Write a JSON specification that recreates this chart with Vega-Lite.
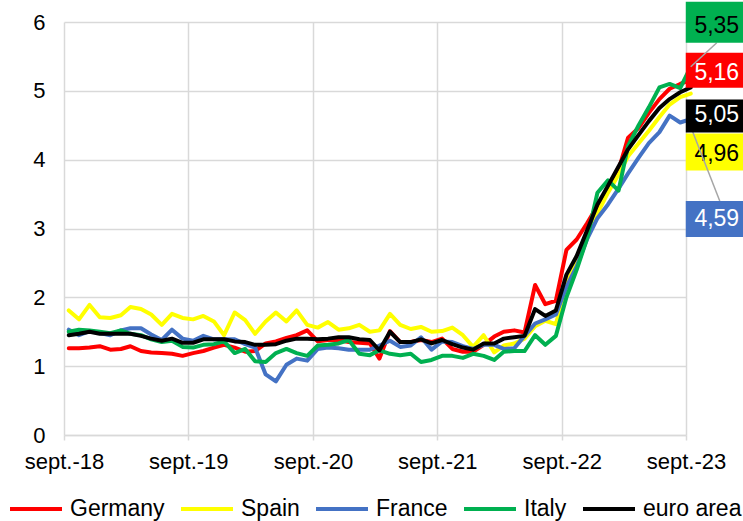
{
  "$schema": "https://vega.github.io/schema/vega-lite/v6.json",
  "width": 622,
  "height": 413,
  "autosize": {"type": "none"},
  "padding": {"left": 64, "top": 22, "right": 57, "bottom": 86},
  "background": "white",
  "config": {
    "view": {"stroke": null},
    "font": "Liberation Sans",
    "locale": {"number": {"decimal": ",", "thousands": ".", "grouping": [3], "currency": ["", " €"]}},
    "axis": {"gridColor": "#D9D9D9", "gridWidth": 1.5, "domainColor": "#D9D9D9", "domainWidth": 1.5, "tickColor": "#D9D9D9", "tickWidth": 1.5, "labelFont": "Liberation Sans", "labelFontSize": 22, "labelColor": "#000000", "title": null}
  },
  "data": {
    "format": {"parse": {"date": "date"}},
    "values": [
      {"date":"2018-09-15","series":"Germany","rate":1.26},{"date":"2018-10-15","series":"Germany","rate":1.26},{"date":"2018-11-15","series":"Germany","rate":1.27},{"date":"2018-12-15","series":"Germany","rate":1.29},
      {"date":"2019-01-15","series":"Germany","rate":1.24},{"date":"2019-02-15","series":"Germany","rate":1.25},{"date":"2019-03-15","series":"Germany","rate":1.29},{"date":"2019-04-15","series":"Germany","rate":1.22},{"date":"2019-05-15","series":"Germany","rate":1.20},{"date":"2019-06-15","series":"Germany","rate":1.19},{"date":"2019-07-15","series":"Germany","rate":1.18},{"date":"2019-08-15","series":"Germany","rate":1.15},{"date":"2019-09-15","series":"Germany","rate":1.19},{"date":"2019-10-15","series":"Germany","rate":1.22},{"date":"2019-11-15","series":"Germany","rate":1.27},{"date":"2019-12-15","series":"Germany","rate":1.31},
      {"date":"2020-01-15","series":"Germany","rate":1.27},{"date":"2020-02-15","series":"Germany","rate":1.21},{"date":"2020-03-15","series":"Germany","rate":1.22},{"date":"2020-04-15","series":"Germany","rate":1.33},{"date":"2020-05-15","series":"Germany","rate":1.36},{"date":"2020-06-15","series":"Germany","rate":1.41},{"date":"2020-07-15","series":"Germany","rate":1.45},{"date":"2020-08-15","series":"Germany","rate":1.52},{"date":"2020-09-15","series":"Germany","rate":1.36},{"date":"2020-10-15","series":"Germany","rate":1.38},{"date":"2020-11-15","series":"Germany","rate":1.38},{"date":"2020-12-15","series":"Germany","rate":1.35},
      {"date":"2021-01-15","series":"Germany","rate":1.34},{"date":"2021-02-15","series":"Germany","rate":1.33},{"date":"2021-03-15","series":"Germany","rate":1.11},{"date":"2021-04-15","series":"Germany","rate":1.51},{"date":"2021-05-15","series":"Germany","rate":1.35},{"date":"2021-06-15","series":"Germany","rate":1.35},{"date":"2021-07-15","series":"Germany","rate":1.38},{"date":"2021-08-15","series":"Germany","rate":1.35},{"date":"2021-09-15","series":"Germany","rate":1.40},{"date":"2021-10-15","series":"Germany","rate":1.25},{"date":"2021-11-15","series":"Germany","rate":1.21},{"date":"2021-12-15","series":"Germany","rate":1.21},
      {"date":"2022-01-15","series":"Germany","rate":1.31},{"date":"2022-02-15","series":"Germany","rate":1.43},{"date":"2022-03-15","series":"Germany","rate":1.50},{"date":"2022-04-15","series":"Germany","rate":1.52},{"date":"2022-05-15","series":"Germany","rate":1.49},{"date":"2022-06-15","series":"Germany","rate":2.18},{"date":"2022-07-15","series":"Germany","rate":1.90},{"date":"2022-08-15","series":"Germany","rate":1.95},{"date":"2022-09-15","series":"Germany","rate":2.69},{"date":"2022-10-15","series":"Germany","rate":2.84},{"date":"2022-11-15","series":"Germany","rate":3.08},{"date":"2022-12-15","series":"Germany","rate":3.33},
      {"date":"2023-01-15","series":"Germany","rate":3.58},{"date":"2023-02-15","series":"Germany","rate":3.85},{"date":"2023-03-15","series":"Germany","rate":4.32},{"date":"2023-04-15","series":"Germany","rate":4.46},{"date":"2023-05-15","series":"Germany","rate":4.68},{"date":"2023-06-15","series":"Germany","rate":4.88},{"date":"2023-07-15","series":"Germany","rate":5.03},{"date":"2023-08-15","series":"Germany","rate":5.10},{"date":"2023-09-15","series":"Germany","rate":5.16},

      {"date":"2018-09-15","series":"Spain","rate":1.81},{"date":"2018-10-15","series":"Spain","rate":1.68},{"date":"2018-11-15","series":"Spain","rate":1.89},{"date":"2018-12-15","series":"Spain","rate":1.71},
      {"date":"2019-01-15","series":"Spain","rate":1.70},{"date":"2019-02-15","series":"Spain","rate":1.74},{"date":"2019-03-15","series":"Spain","rate":1.86},{"date":"2019-04-15","series":"Spain","rate":1.83},{"date":"2019-05-15","series":"Spain","rate":1.75},{"date":"2019-06-15","series":"Spain","rate":1.60},{"date":"2019-07-15","series":"Spain","rate":1.76},{"date":"2019-08-15","series":"Spain","rate":1.70},{"date":"2019-09-15","series":"Spain","rate":1.68},{"date":"2019-10-15","series":"Spain","rate":1.73},{"date":"2019-11-15","series":"Spain","rate":1.65},{"date":"2019-12-15","series":"Spain","rate":1.45},
      {"date":"2020-01-15","series":"Spain","rate":1.78},{"date":"2020-02-15","series":"Spain","rate":1.67},{"date":"2020-03-15","series":"Spain","rate":1.47},{"date":"2020-04-15","series":"Spain","rate":1.65},{"date":"2020-05-15","series":"Spain","rate":1.78},{"date":"2020-06-15","series":"Spain","rate":1.65},{"date":"2020-07-15","series":"Spain","rate":1.81},{"date":"2020-08-15","series":"Spain","rate":1.60},{"date":"2020-09-15","series":"Spain","rate":1.56},{"date":"2020-10-15","series":"Spain","rate":1.64},{"date":"2020-11-15","series":"Spain","rate":1.53},{"date":"2020-12-15","series":"Spain","rate":1.55},
      {"date":"2021-01-15","series":"Spain","rate":1.60},{"date":"2021-02-15","series":"Spain","rate":1.50},{"date":"2021-03-15","series":"Spain","rate":1.52},{"date":"2021-04-15","series":"Spain","rate":1.76},{"date":"2021-05-15","series":"Spain","rate":1.60},{"date":"2021-06-15","series":"Spain","rate":1.54},{"date":"2021-07-15","series":"Spain","rate":1.57},{"date":"2021-08-15","series":"Spain","rate":1.50},{"date":"2021-09-15","series":"Spain","rate":1.51},{"date":"2021-10-15","series":"Spain","rate":1.56},{"date":"2021-11-15","series":"Spain","rate":1.45},{"date":"2021-12-15","series":"Spain","rate":1.28},
      {"date":"2022-01-15","series":"Spain","rate":1.45},{"date":"2022-02-15","series":"Spain","rate":1.20},{"date":"2022-03-15","series":"Spain","rate":1.30},{"date":"2022-04-15","series":"Spain","rate":1.33},{"date":"2022-05-15","series":"Spain","rate":1.40},{"date":"2022-06-15","series":"Spain","rate":1.58},{"date":"2022-07-15","series":"Spain","rate":1.66},{"date":"2022-08-15","series":"Spain","rate":1.61},{"date":"2022-09-15","series":"Spain","rate":2.20},{"date":"2022-10-15","series":"Spain","rate":2.50},{"date":"2022-11-15","series":"Spain","rate":2.88},{"date":"2022-12-15","series":"Spain","rate":3.22},
      {"date":"2023-01-15","series":"Spain","rate":3.52},{"date":"2023-02-15","series":"Spain","rate":3.78},{"date":"2023-03-15","series":"Spain","rate":4.05},{"date":"2023-04-15","series":"Spain","rate":4.24},{"date":"2023-05-15","series":"Spain","rate":4.42},{"date":"2023-06-15","series":"Spain","rate":4.62},{"date":"2023-07-15","series":"Spain","rate":4.80},{"date":"2023-08-15","series":"Spain","rate":4.91},{"date":"2023-09-15","series":"Spain","rate":4.96},

      {"date":"2018-09-15","series":"France","rate":1.53},{"date":"2018-10-15","series":"France","rate":1.45},{"date":"2018-11-15","series":"France","rate":1.51},{"date":"2018-12-15","series":"France","rate":1.48},
      {"date":"2019-01-15","series":"France","rate":1.45},{"date":"2019-02-15","series":"France","rate":1.52},{"date":"2019-03-15","series":"France","rate":1.55},{"date":"2019-04-15","series":"France","rate":1.55},{"date":"2019-05-15","series":"France","rate":1.46},{"date":"2019-06-15","series":"France","rate":1.38},{"date":"2019-07-15","series":"France","rate":1.53},{"date":"2019-08-15","series":"France","rate":1.40},{"date":"2019-09-15","series":"France","rate":1.37},{"date":"2019-10-15","series":"France","rate":1.44},{"date":"2019-11-15","series":"France","rate":1.39},{"date":"2019-12-15","series":"France","rate":1.39},
      {"date":"2020-01-15","series":"France","rate":1.39},{"date":"2020-02-15","series":"France","rate":1.32},{"date":"2020-03-15","series":"France","rate":1.27},{"date":"2020-04-15","series":"France","rate":0.88},{"date":"2020-05-15","series":"France","rate":0.78},{"date":"2020-06-15","series":"France","rate":1.02},{"date":"2020-07-15","series":"France","rate":1.11},{"date":"2020-08-15","series":"France","rate":1.08},{"date":"2020-09-15","series":"France","rate":1.25},{"date":"2020-10-15","series":"France","rate":1.27},{"date":"2020-11-15","series":"France","rate":1.26},{"date":"2020-12-15","series":"France","rate":1.24},
      {"date":"2021-01-15","series":"France","rate":1.24},{"date":"2021-02-15","series":"France","rate":1.24},{"date":"2021-03-15","series":"France","rate":1.30},{"date":"2021-04-15","series":"France","rate":1.37},{"date":"2021-05-15","series":"France","rate":1.28},{"date":"2021-06-15","series":"France","rate":1.30},{"date":"2021-07-15","series":"France","rate":1.42},{"date":"2021-08-15","series":"France","rate":1.24},{"date":"2021-09-15","series":"France","rate":1.36},{"date":"2021-10-15","series":"France","rate":1.35},{"date":"2021-11-15","series":"France","rate":1.29},{"date":"2021-12-15","series":"France","rate":1.25},
      {"date":"2022-01-15","series":"France","rate":1.31},{"date":"2022-02-15","series":"France","rate":1.31},{"date":"2022-03-15","series":"France","rate":1.25},{"date":"2022-04-15","series":"France","rate":1.26},{"date":"2022-05-15","series":"France","rate":1.44},{"date":"2022-06-15","series":"France","rate":1.62},{"date":"2022-07-15","series":"France","rate":1.68},{"date":"2022-08-15","series":"France","rate":1.75},{"date":"2022-09-15","series":"France","rate":2.15},{"date":"2022-10-15","series":"France","rate":2.45},{"date":"2022-11-15","series":"France","rate":2.85},{"date":"2022-12-15","series":"France","rate":3.15},
      {"date":"2023-01-15","series":"France","rate":3.35},{"date":"2023-02-15","series":"France","rate":3.58},{"date":"2023-03-15","series":"France","rate":3.80},{"date":"2023-04-15","series":"France","rate":4.03},{"date":"2023-05-15","series":"France","rate":4.24},{"date":"2023-06-15","series":"France","rate":4.40},{"date":"2023-07-15","series":"France","rate":4.64},{"date":"2023-08-15","series":"France","rate":4.54},{"date":"2023-09-15","series":"France","rate":4.59},

      {"date":"2018-09-15","series":"Italy","rate":1.50},{"date":"2018-10-15","series":"Italy","rate":1.53},{"date":"2018-11-15","series":"Italy","rate":1.52},{"date":"2018-12-15","series":"Italy","rate":1.50},
      {"date":"2019-01-15","series":"Italy","rate":1.48},{"date":"2019-02-15","series":"Italy","rate":1.52},{"date":"2019-03-15","series":"Italy","rate":1.47},{"date":"2019-04-15","series":"Italy","rate":1.45},{"date":"2019-05-15","series":"Italy","rate":1.39},{"date":"2019-06-15","series":"Italy","rate":1.35},{"date":"2019-07-15","series":"Italy","rate":1.37},{"date":"2019-08-15","series":"Italy","rate":1.28},{"date":"2019-09-15","series":"Italy","rate":1.27},{"date":"2019-10-15","series":"Italy","rate":1.31},{"date":"2019-11-15","series":"Italy","rate":1.32},{"date":"2019-12-15","series":"Italy","rate":1.36},
      {"date":"2020-01-15","series":"Italy","rate":1.19},{"date":"2020-02-15","series":"Italy","rate":1.25},{"date":"2020-03-15","series":"Italy","rate":1.07},{"date":"2020-04-15","series":"Italy","rate":1.06},{"date":"2020-05-15","series":"Italy","rate":1.19},{"date":"2020-06-15","series":"Italy","rate":1.25},{"date":"2020-07-15","series":"Italy","rate":1.19},{"date":"2020-08-15","series":"Italy","rate":1.15},{"date":"2020-09-15","series":"Italy","rate":1.30},{"date":"2020-10-15","series":"Italy","rate":1.31},{"date":"2020-11-15","series":"Italy","rate":1.33},{"date":"2020-12-15","series":"Italy","rate":1.38},
      {"date":"2021-01-15","series":"Italy","rate":1.18},{"date":"2021-02-15","series":"Italy","rate":1.16},{"date":"2021-03-15","series":"Italy","rate":1.23},{"date":"2021-04-15","series":"Italy","rate":1.18},{"date":"2021-05-15","series":"Italy","rate":1.16},{"date":"2021-06-15","series":"Italy","rate":1.18},{"date":"2021-07-15","series":"Italy","rate":1.06},{"date":"2021-08-15","series":"Italy","rate":1.09},{"date":"2021-09-15","series":"Italy","rate":1.15},{"date":"2021-10-15","series":"Italy","rate":1.15},{"date":"2021-11-15","series":"Italy","rate":1.12},{"date":"2021-12-15","series":"Italy","rate":1.18},
      {"date":"2022-01-15","series":"Italy","rate":1.15},{"date":"2022-02-15","series":"Italy","rate":1.09},{"date":"2022-03-15","series":"Italy","rate":1.21},{"date":"2022-04-15","series":"Italy","rate":1.22},{"date":"2022-05-15","series":"Italy","rate":1.22},{"date":"2022-06-15","series":"Italy","rate":1.45},{"date":"2022-07-15","series":"Italy","rate":1.31},{"date":"2022-08-15","series":"Italy","rate":1.44},{"date":"2022-09-15","series":"Italy","rate":2.00},{"date":"2022-10-15","series":"Italy","rate":2.40},{"date":"2022-11-15","series":"Italy","rate":2.86},{"date":"2022-12-15","series":"Italy","rate":3.52},
      {"date":"2023-01-15","series":"Italy","rate":3.70},{"date":"2023-02-15","series":"Italy","rate":3.55},{"date":"2023-03-15","series":"Italy","rate":4.20},{"date":"2023-04-15","series":"Italy","rate":4.50},{"date":"2023-05-15","series":"Italy","rate":4.76},{"date":"2023-06-15","series":"Italy","rate":5.05},{"date":"2023-07-15","series":"Italy","rate":5.10},{"date":"2023-08-15","series":"Italy","rate":5.04},{"date":"2023-09-15","series":"Italy","rate":5.35},

      {"date":"2018-09-15","series":"euro area","rate":1.45},{"date":"2018-10-15","series":"euro area","rate":1.47},{"date":"2018-11-15","series":"euro area","rate":1.50},{"date":"2018-12-15","series":"euro area","rate":1.47},
      {"date":"2019-01-15","series":"euro area","rate":1.47},{"date":"2019-02-15","series":"euro area","rate":1.47},{"date":"2019-03-15","series":"euro area","rate":1.47},{"date":"2019-04-15","series":"euro area","rate":1.44},{"date":"2019-05-15","series":"euro area","rate":1.40},{"date":"2019-06-15","series":"euro area","rate":1.37},{"date":"2019-07-15","series":"euro area","rate":1.40},{"date":"2019-08-15","series":"euro area","rate":1.34},{"date":"2019-09-15","series":"euro area","rate":1.34},{"date":"2019-10-15","series":"euro area","rate":1.39},{"date":"2019-11-15","series":"euro area","rate":1.39},{"date":"2019-12-15","series":"euro area","rate":1.39},
      {"date":"2020-01-15","series":"euro area","rate":1.36},{"date":"2020-02-15","series":"euro area","rate":1.35},{"date":"2020-03-15","series":"euro area","rate":1.31},{"date":"2020-04-15","series":"euro area","rate":1.31},{"date":"2020-05-15","series":"euro area","rate":1.32},{"date":"2020-06-15","series":"euro area","rate":1.37},{"date":"2020-07-15","series":"euro area","rate":1.40},{"date":"2020-08-15","series":"euro area","rate":1.40},{"date":"2020-09-15","series":"euro area","rate":1.39},{"date":"2020-10-15","series":"euro area","rate":1.40},{"date":"2020-11-15","series":"euro area","rate":1.42},{"date":"2020-12-15","series":"euro area","rate":1.42},
      {"date":"2021-01-15","series":"euro area","rate":1.39},{"date":"2021-02-15","series":"euro area","rate":1.38},{"date":"2021-03-15","series":"euro area","rate":1.23},{"date":"2021-04-15","series":"euro area","rate":1.50},{"date":"2021-05-15","series":"euro area","rate":1.35},{"date":"2021-06-15","series":"euro area","rate":1.35},{"date":"2021-07-15","series":"euro area","rate":1.39},{"date":"2021-08-15","series":"euro area","rate":1.33},{"date":"2021-09-15","series":"euro area","rate":1.38},{"date":"2021-10-15","series":"euro area","rate":1.32},{"date":"2021-11-15","series":"euro area","rate":1.27},{"date":"2021-12-15","series":"euro area","rate":1.24},
      {"date":"2022-01-15","series":"euro area","rate":1.33},{"date":"2022-02-15","series":"euro area","rate":1.33},{"date":"2022-03-15","series":"euro area","rate":1.40},{"date":"2022-04-15","series":"euro area","rate":1.42},{"date":"2022-05-15","series":"euro area","rate":1.44},{"date":"2022-06-15","series":"euro area","rate":1.83},{"date":"2022-07-15","series":"euro area","rate":1.73},{"date":"2022-08-15","series":"euro area","rate":1.81},{"date":"2022-09-15","series":"euro area","rate":2.33},{"date":"2022-10-15","series":"euro area","rate":2.60},{"date":"2022-11-15","series":"euro area","rate":2.98},{"date":"2022-12-15","series":"euro area","rate":3.35},
      {"date":"2023-01-15","series":"euro area","rate":3.62},{"date":"2023-02-15","series":"euro area","rate":3.90},{"date":"2023-03-15","series":"euro area","rate":4.15},{"date":"2023-04-15","series":"euro area","rate":4.36},{"date":"2023-05-15","series":"euro area","rate":4.56},{"date":"2023-06-15","series":"euro area","rate":4.75},{"date":"2023-07-15","series":"euro area","rate":4.88},{"date":"2023-08-15","series":"euro area","rate":4.98},{"date":"2023-09-15","series":"euro area","rate":5.05}
    ]
  },
  "encoding": {
    "x": {
      "field": "date", "type": "temporal",
      "scale": {"type": "utc", "domain": [{"year": 2018, "month": 9, "date": 1, "utc": true}, {"year": 2023, "month": 9, "date": 1, "utc": true}]},
      "axis": {
        "values": [
          {"year": 2018, "month": 9, "date": 1, "utc": true},
          {"year": 2019, "month": 9, "date": 1, "utc": true},
          {"year": 2020, "month": 9, "date": 1, "utc": true},
          {"year": 2021, "month": 9, "date": 1, "utc": true},
          {"year": 2022, "month": 9, "date": 1, "utc": true},
          {"year": 2023, "month": 9, "date": 1, "utc": true}
        ],
        "labelExpr": "'sept.-' + utcFormat(datum.value, '%y')",
        "grid": true, "tickSize": 5, "labelPadding": 11, "labelFlush": false, "labelOverlap": false, "labelBaseline": "top"
      }
    },
    "y": {
      "field": "rate", "type": "quantitative",
      "scale": {"domain": [0, 6], "nice": false},
      "axis": {"values": [0, 1, 2, 3, 4, 5, 6], "grid": true, "ticks": false, "domain": false, "labelPadding": 19}
    }
  },
  "layer": [
    {
      "mark": {"type": "line", "strokeWidth": 4, "strokeJoin": "round", "strokeCap": "round"},
      "encoding": {
        "color": {
          "field": "series", "type": "nominal",
          "scale": {"domain": ["Germany", "Spain", "France", "Italy", "euro area"], "range": ["#FF0000", "#FFFF00", "#4472C4", "#00B050", "#000000"]},
          "legend": {"orient": "none", "legendX": -56, "legendY": 459, "direction": "horizontal", "columns": 5, "gridAlign": "none", "symbolType": "stroke", "symbolSize": 2704, "symbolStrokeWidth": 4, "labelFontSize": 23, "labelFont": "Liberation Sans", "labelColor": "#000000", "labelOffset": 6, "columnPadding": 8, "title": null, "padding": 0, "labelLimit": 200}
        }
      }
    },
    {
      "transform": [{"filter": "datum.series == 'Germany' && utcyear(datum.date) == 2023 && utcmonth(datum.date) == 8"}],
      "layer": [
        {"mark": {"type": "rect", "color": "#FF0000", "xOffset": -5, "x2Offset": 55, "yOffset": -27, "y2Offset": 8}, "encoding": {"x2": {"field": "date"}, "y2": {"field": "rate"}}},
        {"mark": {"type": "text", "color": "#FFFFFF", "fontSize": 23, "dx": 26, "dy": -7, "align": "center", "baseline": "middle"}, "encoding": {"text": {"field": "rate", "type": "quantitative", "format": ".2f"}}}
      ]
    },
    {
      "transform": [{"filter": "datum.series == 'Spain' && utcyear(datum.date) == 2023 && utcmonth(datum.date) == 8"}],
      "layer": [
        {"mark": {"type": "rect", "color": "#FFFF00", "xOffset": -5, "x2Offset": 55, "yOffset": 40, "y2Offset": 77}, "encoding": {"x2": {"field": "date"}, "y2": {"field": "rate"}}},
        {"mark": {"type": "text", "color": "#000000", "fontSize": 23, "dx": 26, "dy": 60, "align": "center", "baseline": "middle"}, "encoding": {"text": {"field": "rate", "type": "quantitative", "format": ".2f"}}}
      ]
    },
    {
      "transform": [{"filter": "datum.series == 'France' && utcyear(datum.date) == 2023 && utcmonth(datum.date) == 8"}],
      "layer": [
        {"mark": {"type": "rule", "color": "#A6A6A6", "strokeWidth": 1.5, "xOffset": 2, "yOffset": 13, "x2Offset": 29, "y2Offset": 82}, "encoding": {"x2": {"field": "date"}, "y2": {"field": "rate"}}},
        {"mark": {"type": "rect", "color": "#4472C4", "xOffset": -5, "x2Offset": 55, "yOffset": 82, "y2Offset": 118}, "encoding": {"x2": {"field": "date"}, "y2": {"field": "rate"}}},
        {"mark": {"type": "text", "color": "#FFFFFF", "fontSize": 23, "dx": 26, "dy": 100, "align": "center", "baseline": "middle"}, "encoding": {"text": {"field": "rate", "type": "quantitative", "format": ".2f"}}}
      ]
    },
    {
      "transform": [{"filter": "datum.series == 'Italy' && utcyear(datum.date) == 2023 && utcmonth(datum.date) == 8"}],
      "layer": [
        {"mark": {"type": "rule", "color": "#A6A6A6", "strokeWidth": 1.5, "x2Offset": 26, "y2Offset": -24}, "encoding": {"x2": {"field": "date"}, "y2": {"field": "rate"}}},
        {"mark": {"type": "rect", "color": "#00B050", "xOffset": -5, "x2Offset": 55, "yOffset": -65, "y2Offset": -24}, "encoding": {"x2": {"field": "date"}, "y2": {"field": "rate"}}},
        {"mark": {"type": "text", "color": "#000000", "fontSize": 23, "dx": 26, "dy": -41, "align": "center", "baseline": "middle"}, "encoding": {"text": {"field": "rate", "type": "quantitative", "format": ".2f"}}}
      ]
    },
    {
      "transform": [{"filter": "datum.series == 'euro area' && utcyear(datum.date) == 2023 && utcmonth(datum.date) == 8"}],
      "layer": [
        {"mark": {"type": "rect", "color": "#000000", "xOffset": -5, "x2Offset": 55, "yOffset": 12, "y2Offset": 45}, "encoding": {"x2": {"field": "date"}, "y2": {"field": "rate"}}},
        {"mark": {"type": "text", "color": "#FFFFFF", "fontSize": 23, "dx": 26, "dy": 28, "align": "center", "baseline": "middle"}, "encoding": {"text": {"field": "rate", "type": "quantitative", "format": ".2f"}}}
      ]
    }
  ]
}
